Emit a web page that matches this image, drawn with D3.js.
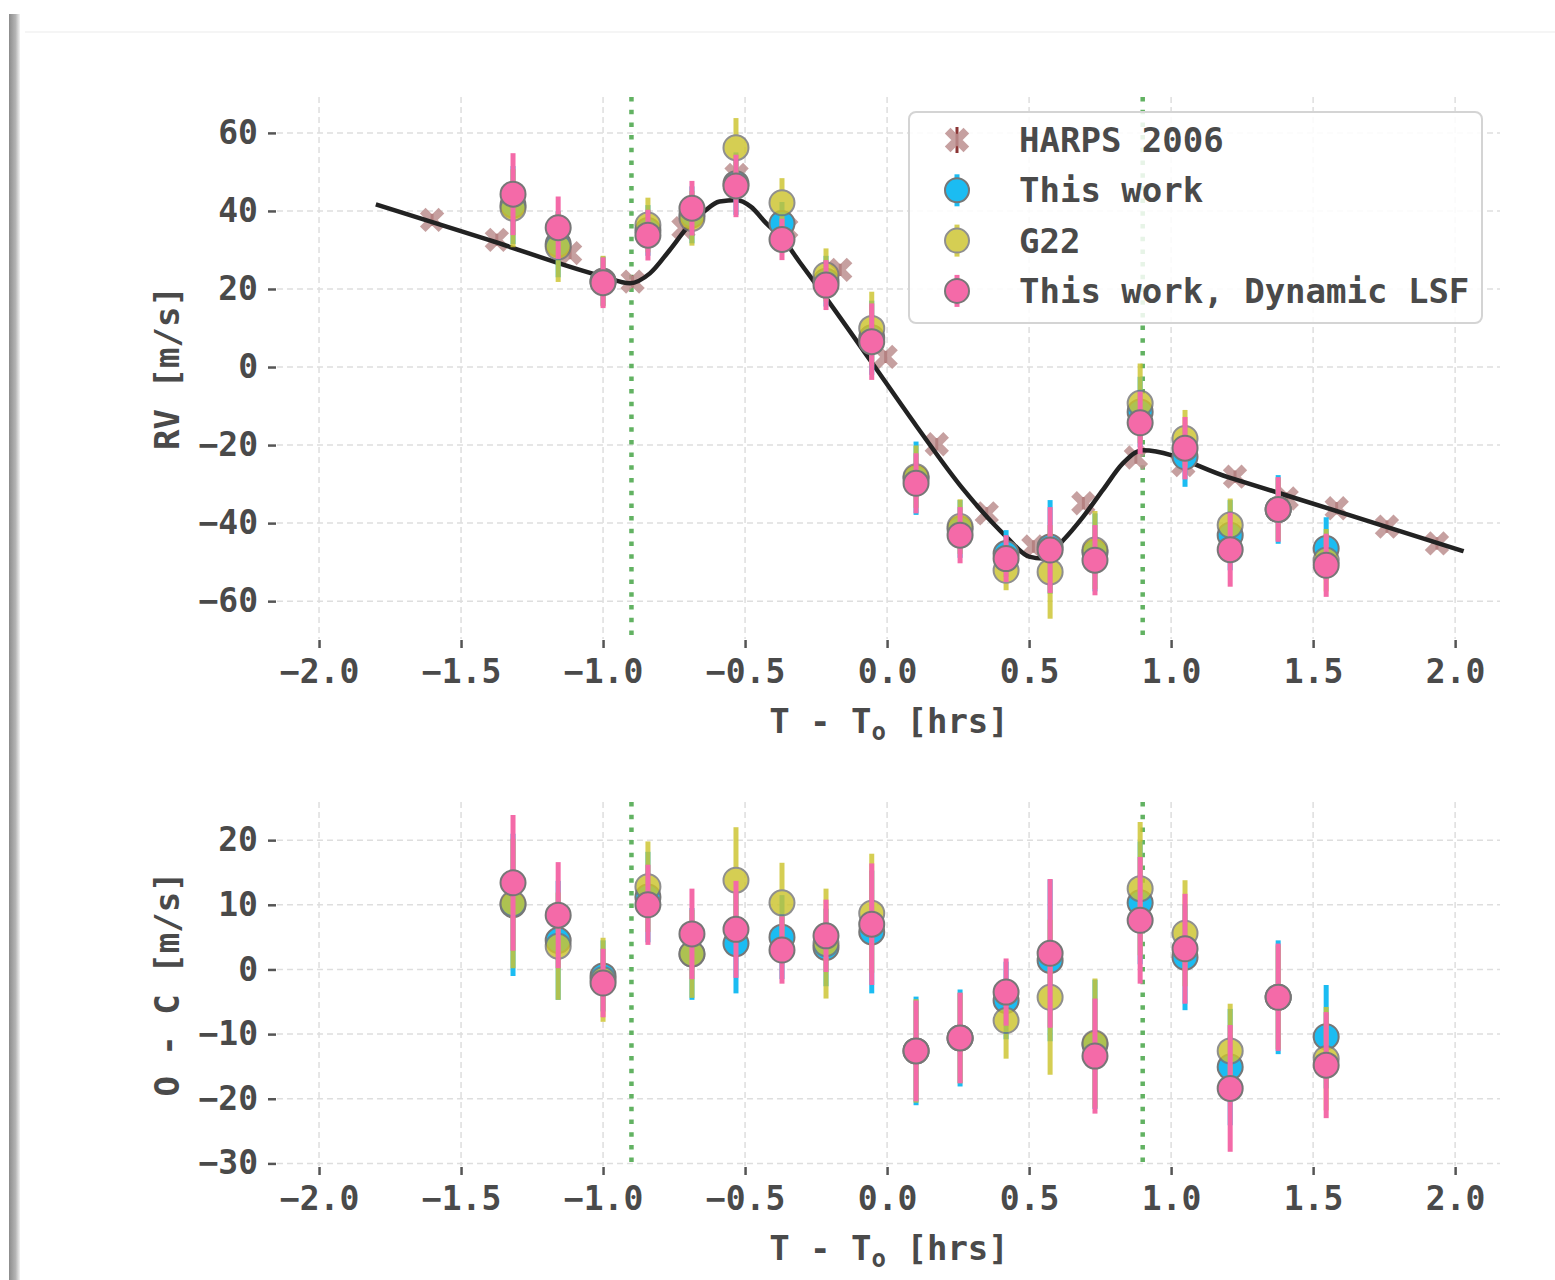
<!DOCTYPE html>
<html lang="en">
<head>
<meta charset="utf-8" />
<title>RV during transit</title>
<script src="https://cdn.jsdelivr.net/npm/d3@7/dist/d3.min.js"></script>
<style>
  body { margin: 0; background: #fff; }
  svg text { font-family: "DejaVu Sans Mono", monospace; fill: #4a4a4a; font-weight: bold; }
  .tick line { stroke: #555; stroke-width: 2.5; }
  .tick text { font-size: 33px; }
</style>
</head>
<body>
<script>
// exposure times, hours from mid-transit
var obsTime = [-1.317, -1.158, -1.000, -0.842, -0.687, -0.532, -0.370, -0.215, -0.054, 0.102,
  0.257, 0.419, 0.574, 0.732, 0.891, 1.049, 1.208, 1.377, 1.546];

// RV [m/s] (top panel)
var rvThisWork = [41.5, 31.5, 22.0, 35.0, 39.0, 47.0, 36.8, 22.0, 7.5, -28.5,
  -41.5, -47.8, -46.1, -47.5, -11.5, -23.0, -43.1, -36.5, -46.5];
var errThisWork = [10, 8.5, 6.3, 6.5, 7.3, 8, 5.5, 6.5, 9.5, 9.4,
  7.4, 6, 12, 10, 9, 7.7, 9, 8.8, 8];
var rvG22 = [40.7, 30.8, 22.0, 36.4, 38.1, 56.2, 42.1, 23.6, 9.9, -28.1,
  -40.9, -52.1, -52.5, -46.9, -9.3, -18.3, -40.5, -36.5, -49.5];
var errG22 = [10, 9, 6.5, 7, 7, 7.6, 6.3, 6.8, 9.4, 8,
  7, 5.1, 12, 10, 10.2, 7.3, 6.8, 8, 8];
var rvDyn = [44.3, 35.7, 21.6, 33.8, 40.7, 46.4, 32.7, 21.0, 6.5, -29.8,
  -43.1, -49.1, -46.9, -49.5, -14.3, -20.8, -46.8, -36.5, -50.8];
var errDyn = [10.5, 8, 6.5, 6.5, 7, 8, 5.3, 6.4, 9.8, 7.7,
  7.2, 6, 11, 9, 8, 8, 9.5, 8.3, 8.1];

// O - C residuals [m/s] (bottom panel)
var ocThisWork = [10.0, 4.5, -1.0, 11.2, 2.4, 4.0, 5.0, 3.4, 5.8, -12.6,
  -10.6, -4.8, 1.4, -11.6, 10.3, 1.9, -15.1, -4.3, -10.4];
var ocErrThisWork = [11, 9.2, 5.5, 7, 7.1, 7.7, 6.5, 6, 9.5, 8.4,
  7.5, 6, 12.5, 10, 9.5, 8.2, 9, 8.8, 8];
var ocG22 = [10.2, 3.6, -1.6, 12.8, 2.4, 13.8, 10.3, 4.0, 8.7, -12.6,
  -10.6, -7.9, -4.3, -11.4, 12.5, 5.6, -12.6, -4.3, -13.8];
var ocErrG22 = [10, 8.3, 6.5, 7, 6.8, 8.2, 6.2, 8.5, 9.2, 8,
  7, 5.9, 12, 10, 10.3, 8.2, 7.3, 8, 8];
var ocDyn = [13.4, 8.4, -2.1, 10.0, 5.5, 6.2, 3.0, 5.2, 7.0, -12.6,
  -10.6, -3.5, 2.5, -13.4, 7.6, 3.2, -18.4, -4.3, -14.8];
var ocErrDyn = [10.5, 8.2, 5.3, 6.2, 7, 7.5, 5.2, 5.6, 9.4, 7.8,
  7, 5.2, 11.5, 8.9, 9.8, 8.5, 9.8, 8.3, 8.2];

// HARPS 2006
var harpsTime = [-1.602, -1.374, -1.116, -0.896, -0.717, -0.530, -0.355, -0.165, -0.005, 0.175,
  0.351, 0.515, 0.691, 0.876, 1.043, 1.225, 1.407, 1.583, 1.760, 1.936];
var harpsRV = [37.7, 32.6, 29.2, 21.9, 35.6, 49.2, 35.5, 24.9, 2.6, -19.8,
  -37.5, -46.0, -34.9, -23.2, -25.1, -28.1, -33.7, -36.2, -40.9, -45.2];

// RM model curve
var modelTime = [-1.80, -1.40, -1.00, -0.905, -0.835, -0.765, -0.705, -0.645, -0.59, -0.53,
  -0.48, -0.425, -0.365, -0.305, -0.21, -0.06, 0.105, 0.27, 0.42, 0.50,
  0.55, 0.62, 0.69, 0.76, 0.83, 0.90, 1.20, 1.60, 2.03];
var modelRV = [41.7, 32.5, 23.2, 21.5, 24.0, 30.0, 35.6, 39.8, 42.4, 42.8,
  41.1, 36.8, 32.6, 26.6, 17.2, 1.8, -15.3, -31.5, -43.5, -48.6,
  -49.1, -44.4, -38.4, -31.5, -24.7, -21.3, -28.2, -37.3, -47.2];

var ingressEgress = [-0.9, 0.9];
var xTicks = [-2.0, -1.5, -1.0, -0.5, 0.0, 0.5, 1.0, 1.5, 2.0];
var yTicksTop = [-60, -40, -20, 0, 20, 40, 60];
var yTicksBot = [-30, -20, -10, 0, 10, 20];
var legendLabels = ["HARPS 2006", "This work", "G22", "This work, Dynamic LSF"];

var colBlue = "#1bbcf2", colYellow = "#cdc42e", colPink = "#f46aa8";

var width = 1555, height = 1280;
var svg = d3.select("body").append("svg").attr("width", width).attr("height", height);

// screenshot frame on the left
var grad = svg.append("defs").append("linearGradient").attr("id", "shade");
grad.append("stop").attr("offset", "0%").attr("stop-color", "#8c8c8c");
grad.append("stop").attr("offset", "60%").attr("stop-color", "#b5b5b5");
grad.append("stop").attr("offset", "100%").attr("stop-color", "#f2f2f2");
svg.append("rect").attr("x", 9).attr("y", 14).attr("width", 11).attr("height", height).attr("fill", "url(#shade)");
svg.append("line").attr("x1", 25).attr("x2", width).attr("y1", 32).attr("y2", 32)
  .attr("stroke", "#f2f2f2").attr("stroke-width", 1.5);

var xLeft = 277, xRight = 1500;
var x = d3.scaleLinear().domain([-2.148, 2.158]).range([xLeft, xRight]);
var yTop = d3.scaleLinear().domain([-69.7, 69.2]).range([639, 97]);
var yBot = d3.scaleLinear().domain([-30.4, 25.9]).range([1166, 802]);

function minusFmt(d, digits) {
  return d.toFixed(digits).replace("-", "\u2212");
}

function drawPanel(y, yTicks, ylabel) {
  var top = y.range()[1], bot = y.range()[0];
  var g = svg.append("g");
  // grid
  g.selectAll(".hg").data(yTicks).enter().append("line")
    .attr("x1", xLeft).attr("x2", xRight)
    .attr("y1", function (d) { return y(d); }).attr("y2", function (d) { return y(d); })
    .attr("stroke", "#dedede").attr("stroke-width", 1.5).attr("stroke-dasharray", "6 4");
  g.selectAll(".vg").data(xTicks).enter().append("line")
    .attr("x1", function (d) { return x(d); }).attr("x2", function (d) { return x(d); })
    .attr("y1", top).attr("y2", bot)
    .attr("stroke", "#dedede").attr("stroke-width", 1.5).attr("stroke-dasharray", "6 4");

  // axes, no spines
  var ax = svg.append("g").attr("transform", "translate(0," + (bot + 1) + ")")
    .call(d3.axisBottom(x).tickValues(xTicks).tickSize(8).tickPadding(12)
      .tickFormat(function (d) { return minusFmt(d, 1); }));
  ax.select(".domain").remove();
  var ay = svg.append("g").attr("transform", "translate(" + (xLeft - 1) + ",0)")
    .call(d3.axisLeft(y).tickValues(yTicks).tickSize(8).tickPadding(10)
      .tickFormat(function (d) { return minusFmt(d, 0); }));
  ay.select(".domain").remove();
  svg.selectAll(".tick text").attr("fill", "#4a4a4a");

  // ingress / egress
  g.selectAll(".ie").data(ingressEgress).enter().append("line")
    .attr("x1", function (d) { return x(d); }).attr("x2", function (d) { return x(d); })
    .attr("y1", top).attr("y2", bot + 2)
    .attr("stroke", "#62b262").attr("stroke-width", 4.5).attr("stroke-dasharray", "4.5 8.2");

  // labels
  var xl = svg.append("text").attr("x", 889).attr("y", bot + 94)
    .attr("text-anchor", "middle").attr("font-size", 34);
  xl.append("tspan").text("T - T");
  xl.append("tspan").attr("font-size", 24).attr("dy", 7).text("o");
  xl.append("tspan").attr("dy", -7).text(" [hrs]");
  svg.append("text").attr("transform", "translate(179," + ((top + bot) / 2) + ") rotate(-90)")
    .attr("text-anchor", "middle").attr("font-size", 34).text(ylabel);
  return g;
}

function drawSeries(layer, y, vals, errs, color, opacity) {
  var g = layer.append("g").attr("opacity", opacity);
  g.selectAll("line").data(vals).enter().append("line")
    .attr("x1", function (d, i) { return x(obsTime[i]); })
    .attr("x2", function (d, i) { return x(obsTime[i]); })
    .attr("y1", function (d, i) { return y(d - errs[i]); })
    .attr("y2", function (d, i) { return y(d + errs[i]); })
    .attr("stroke", color).attr("stroke-width", 5);
  g.selectAll("circle").data(vals).enter().append("circle")
    .attr("cx", function (d, i) { return x(obsTime[i]); })
    .attr("cy", function (d) { return y(d); })
    .attr("r", 12.5).attr("fill", color).attr("stroke", "#777").attr("stroke-width", 2);
}

var xMark = d3.symbol().type(d3.symbolX).size(230);

// ---- top panel
var gTop = drawPanel(yTop, yTicksTop, "RV [m/s]");
var hg = gTop.append("g");
hg.selectAll("line").data(harpsRV).enter().append("line")
  .attr("x1", function (d, i) { return x(harpsTime[i]); })
  .attr("x2", function (d, i) { return x(harpsTime[i]); })
  .attr("y1", function (d) { return yTop(d) - 6; })
  .attr("y2", function (d) { return yTop(d) + 6; })
  .attr("stroke", "#8b3535").attr("stroke-width", 3);
hg.selectAll("path").data(harpsRV).enter().append("path")
  .attr("d", xMark)
  .attr("transform", function (d, i) { return "translate(" + x(harpsTime[i]) + "," + yTop(d) + ")"; })
  .attr("fill", "none").attr("stroke", "#bc8f8f").attr("stroke-width", 8).attr("opacity", 0.85);

gTop.append("path")
  .datum(modelRV)
  .attr("d", d3.line()
    .x(function (d, i) { return x(modelTime[i]); })
    .y(function (d) { return yTop(d); })
    .curve(d3.curveMonotoneX))
  .attr("fill", "none").attr("stroke", "#222").attr("stroke-width", 4.5);

drawSeries(gTop, yTop, rvThisWork, errThisWork, colBlue, 1);
drawSeries(gTop, yTop, rvG22, errG22, colYellow, 0.82);
drawSeries(gTop, yTop, rvDyn, errDyn, colPink, 1);

// legend
var lg = svg.append("g");
lg.append("rect").attr("x", 909).attr("y", 112).attr("width", 573).attr("height", 211)
  .attr("rx", 7).attr("fill", "#fff").attr("fill-opacity", 0.85)
  .attr("stroke", "#d4d4d4").attr("stroke-width", 2);
var legendColors = [null, colBlue, colYellow, colPink];
legendLabels.forEach(function (lab, i) {
  var cy = 140 + i * 50.3;
  if (i === 0) {
    lg.append("line").attr("x1", 957).attr("x2", 957).attr("y1", cy - 13).attr("y2", cy + 13)
      .attr("stroke", "#8b3535").attr("stroke-width", 3);
    lg.append("path").attr("d", xMark).attr("transform", "translate(957," + cy + ")")
      .attr("fill", "none").attr("stroke", "#bc8f8f").attr("stroke-width", 8).attr("opacity", 0.85);
  } else {
    var e = lg.append("g").attr("opacity", i === 2 ? 0.82 : 1);
    e.append("line").attr("x1", 957).attr("x2", 957).attr("y1", cy - 16).attr("y2", cy + 16)
      .attr("stroke", legendColors[i]).attr("stroke-width", 5);
    e.append("circle").attr("cx", 957).attr("cy", cy).attr("r", 12)
      .attr("fill", legendColors[i]).attr("stroke", "#777").attr("stroke-width", 2);
  }
  lg.append("text").attr("x", 1019).attr("y", cy + 12).attr("font-size", 34).text(lab);
});

// ---- bottom panel
var gBot = drawPanel(yBot, yTicksBot, "O - C [m/s]");
drawSeries(gBot, yBot, ocThisWork, ocErrThisWork, colBlue, 1);
drawSeries(gBot, yBot, ocG22, ocErrG22, colYellow, 0.82);
drawSeries(gBot, yBot, ocDyn, ocErrDyn, colPink, 1);
</script>
</body>
</html>
